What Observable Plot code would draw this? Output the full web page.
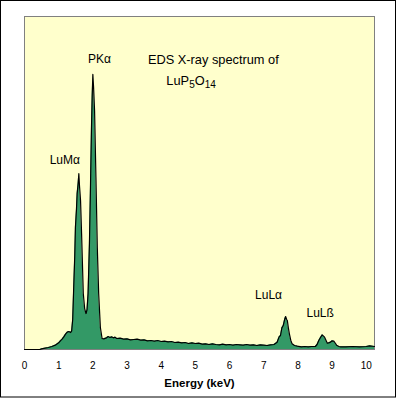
<!DOCTYPE html>
<html>
<head>
<meta charset="utf-8">
<script src="https://cdn.jsdelivr.net/npm/d3@7"></script>
<script src="https://cdn.jsdelivr.net/npm/@observablehq/plot@0.6"></script>
<style>
  html, body { margin: 0; padding: 0; background: #ffffff; }
  #chart svg { display: block; }
</style>
</head>
<body>
<div id="chart"></div>
<script>
// Energy (keV) and counts (arbitrary units)
const energy = [
  0.00, 0.45, 0.50, 0.60, 0.70, 0.80, 0.90, 1.00, 1.05, 1.10, 1.15, 1.20, 1.25, 1.30, 1.35, 1.38,
  1.41, 1.44, 1.47, 1.49, 1.52, 1.54, 1.57, 1.59, 1.61, 1.64, 1.67, 1.70, 1.72, 1.76, 1.80, 1.83,
  1.86, 1.90, 1.93, 1.96, 1.98, 2.00, 2.02, 2.05, 2.09, 2.13, 2.17, 2.22, 2.27, 2.32, 2.40, 2.45,
  2.50, 2.55, 2.60, 2.65, 2.70, 2.80, 2.90, 3.00, 3.10, 3.20, 3.30, 3.40, 3.50, 3.60, 3.70, 3.80,
  3.90, 4.00, 4.10, 4.20, 4.30, 4.40, 4.50, 4.60, 4.70, 4.80, 4.90, 5.00, 5.10, 5.20, 5.30, 5.40,
  5.50, 5.60, 5.70, 5.80, 5.90, 6.00, 6.10, 6.20, 6.30, 6.40, 6.50, 6.60, 6.70, 6.80, 6.90, 7.00,
  7.10, 7.20, 7.30, 7.39, 7.45, 7.49, 7.53, 7.57, 7.61, 7.64, 7.67, 7.69, 7.72, 7.75, 7.79, 7.83,
  7.90, 7.98, 8.10, 8.20, 8.30, 8.40, 8.51, 8.56, 8.61, 8.66, 8.71, 8.75, 8.78, 8.82, 8.86, 8.90,
  8.95, 9.00, 9.05, 9.10, 9.13, 9.20, 9.25, 9.40, 9.60, 9.80, 10.00, 10.10, 10.24
];
const counts = [
  0.0, 0.0, 0.2, 0.4, 0.6, 0.9, 1.3, 2.0, 2.6, 3.1, 3.8, 4.6, 5.2, 5.4, 5.1, 5.6,
  9.0, 18.7, 28.0, 36.7, 42.0, 46.8, 50.0, 52.8, 49.0, 44.7, 34.8, 24.0, 16.8, 12.3, 10.8, 12.0,
  16.8, 31.8, 48.6, 66.7, 76.0, 82.6, 79.0, 71.8, 51.7, 30.6, 16.8, 6.6, 3.3, 3.2, 3.5, 3.9,
  3.6, 3.8, 3.5, 3.7, 3.3, 3.4, 3.1, 3.2, 2.9, 3.0, 3.1, 2.8, 2.9, 2.6, 2.7, 2.5,
  2.7, 2.4, 2.5, 2.3, 2.4, 2.1, 2.2, 2.0, 2.1, 1.8, 2.0, 1.8, 1.9, 1.6, 1.7, 1.5,
  1.7, 1.5, 1.4, 1.6, 1.4, 1.5, 1.3, 1.5, 1.4, 1.3, 1.5, 1.3, 1.4, 1.2, 1.4, 1.3,
  1.2, 1.4, 1.5, 2.2, 3.8, 4.2, 6.5, 7.2, 9.0, 9.9, 9.0, 8.7, 6.5, 4.7, 2.8, 1.7,
  1.2, 1.0, 0.8, 0.9, 0.8, 0.9, 0.9, 1.5, 2.7, 3.6, 4.4, 4.0, 3.7, 2.8, 1.9, 2.0,
  2.2, 2.6, 2.5, 1.8, 1.3, 0.9, 0.8, 0.8, 0.9, 0.8, 0.9, 1.1, 0.9
];
const xTicks = [0, 1, 2, 3, 4, 5, 6, 7, 8, 9, 10];

// Peak labels (anchored in data units)
const labelText = ["PK\u03b1", "LuM\u03b1", "LuL\u03b1", "LuL\u00df"];
const labelEnergy = [2.19, 1.18, 7.14, 8.65];
const labelCount = [87.1, 57.0, 16.2, 10.8];

// Title lines; the formula's subscripts are set after rendering
const titleLines = ["EDS X-ray spectrum of", "LuP5O14"];
const formulaParts = [["Lu", false], ["P", false], ["5", true], ["O", false], ["14", true]];
const titleEnergy = [3.61, 4.15];
const titleCount = [87.1, 80.8];

const spectrum = energy.map((e, i) => ({energy: e, counts: counts[i]}));
const labels = labelText.map((t, i) => ({text: t, energy: labelEnergy[i], counts: labelCount[i]}));
const titles = titleLines.map((t, i) => ({text: t, energy: titleEnergy[i], counts: titleCount[i]}));

const font = "'Liberation Sans', Arial, 'DejaVu Sans', sans-serif";

const chart = Plot.plot({
  width: 397,
  height: 398,
  marginLeft: 24,
  marginRight: 23,
  marginTop: 16,
  marginBottom: 49,
  style: {fontFamily: font, color: "#000", background: "#fff", overflow: "visible"},
  x: {domain: [0, 10.24]},
  y: {domain: [0, 100], axis: null},
  marks: [
    Plot.frame({fill: "#ffffcc", stroke: "#808080", strokeWidth: 1}),
    Plot.areaY(spectrum, {x: "energy", y: "counts", fill: "#339966"}),
    Plot.lineY(spectrum, {x: "energy", y: "counts", stroke: "#000", strokeWidth: 1.2}),
    Plot.axisX({ticks: xTicks, tickSize: 0, tickPadding: 12, fontSize: 10, label: null}),
    Plot.text(["Energy (keV)"], {frameAnchor: "bottom", lineAnchor: "top", dy: 29, fontSize: 11.5, fontWeight: "bold"}),
    Plot.text(labels, {x: "energy", y: "counts", text: "text", fontSize: 12}),
    Plot.text(titles, {x: "energy", y: "counts", text: "text", textAnchor: "start", fontSize: 12.8})
  ]
});

// set subscripts in the formula line
d3.select(chart).selectAll("text").filter(function() { return this.textContent === titleLines[1]; })
  .each(function() {
    const t = d3.select(this);
    t.text(null);
    formulaParts.forEach(([s, sub], i) => {
      const prev = i > 0 ? formulaParts[i - 1][1] : false;
      const ts = t.append("tspan").text(s);
      if (sub && !prev) ts.attr("dy", 3).attr("font-size", 10);
      else if (sub) ts.attr("font-size", 10);
      else if (prev) ts.attr("dy", -3);
    });
  });

d3.select(chart).append("rect")
  .attr("x", 0.5).attr("y", 0.5).attr("width", 395).attr("height", 396.5)
  .attr("fill", "none").attr("stroke", "#000").attr("stroke-width", 1);

document.getElementById("chart").appendChild(chart);
</script>
</body>
</html>
